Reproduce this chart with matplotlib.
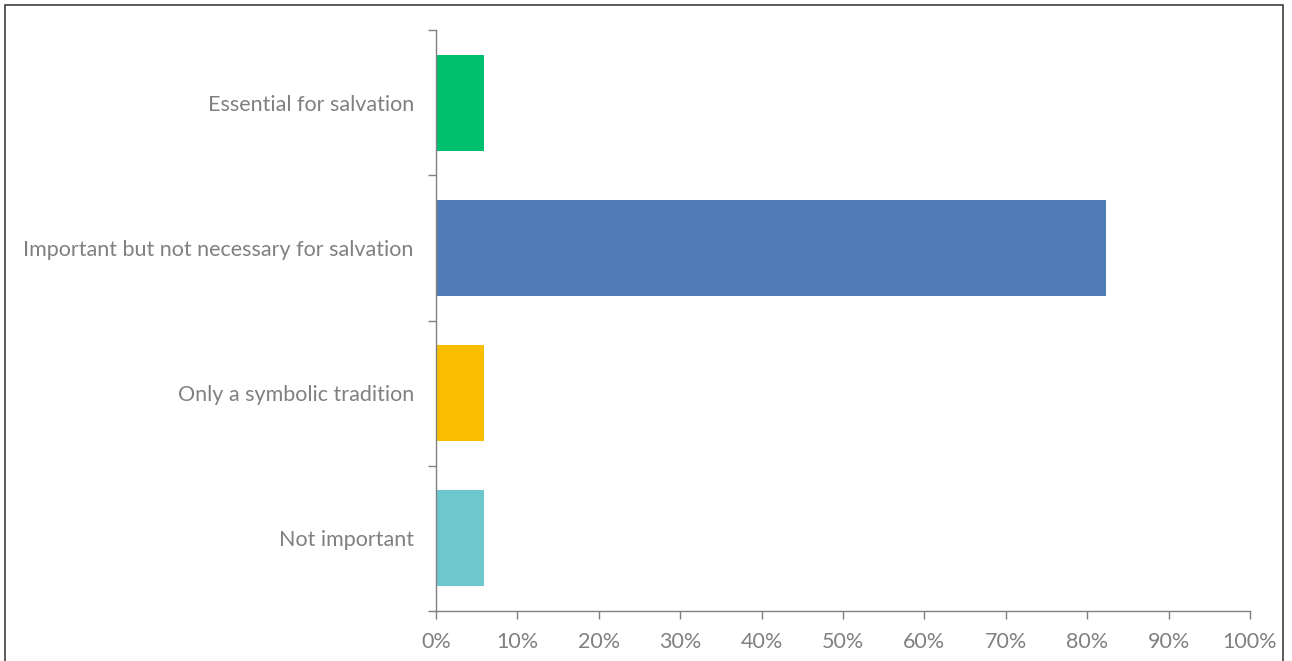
import matplotlib.pyplot as plt
import matplotlib.patches as patches
import numpy as np

kategoriler = ['Essential for salvation',
               'Important but not necessary for salvation',
               'Only a symbolic tradition',
               'Not important']
yuzdeler = [5.88, 82.35, 5.88, 5.88]
renkler = ['#00BF6F', '#4F7CB6', '#F9BE00', '#6CC8CC']
x_etiketleri = ['%d%%' % v for v in range(0, 101, 10)]

plt.rcParams['font.family'] = ['Lato', 'DejaVu Sans']
gri = '#808080'

fig = plt.figure(figsize=(12.92, 6.61), dpi=100)
ax = fig.add_axes([436 / 1292, 50 / 661, 814 / 1292, 581 / 661])

y = np.arange(len(kategoriler))
ax.barh(y, yuzdeler, height=0.66, color=renkler)

ax.set_xlim(0, 100)
ax.set_ylim(len(kategoriler) - 0.5, -0.5)

ax.set_xticks(np.arange(0, 101, 10))
ax.set_xticklabels(x_etiketleri)
ax.tick_params(axis='x', direction='out', length=6, width=1, color=gri,
               labelcolor=gri, labelsize=15.5, pad=9)

# kategori sinirlarinda tikler, etiketler ortada
ax.set_yticks(np.arange(-0.5, len(kategoriler), 1))
ax.set_yticklabels([])
ax.set_yticks(y, minor=True)
ax.set_yticklabels(kategoriler, minor=True)
ax.tick_params(axis='y', which='major', direction='out', length=6, width=1, color=gri)
ax.tick_params(axis='y', which='minor', length=0, labelcolor=gri, labelsize=15.5, pad=16)

for s in ['top', 'right']:
    ax.spines[s].set_visible(False)
for s in ['left', 'bottom']:
    ax.spines[s].set_color(gri)
    ax.spines[s].set_linewidth(1)

# cerceve
fig.patches.append(patches.Rectangle((5 / 1292, -0.01), 1278 / 1292, 656 / 661 + 0.01,
                                     transform=fig.transFigure, fill=False,
                                     edgecolor='#404040', linewidth=1.2))

fig.savefig('out.png', dpi=100)
